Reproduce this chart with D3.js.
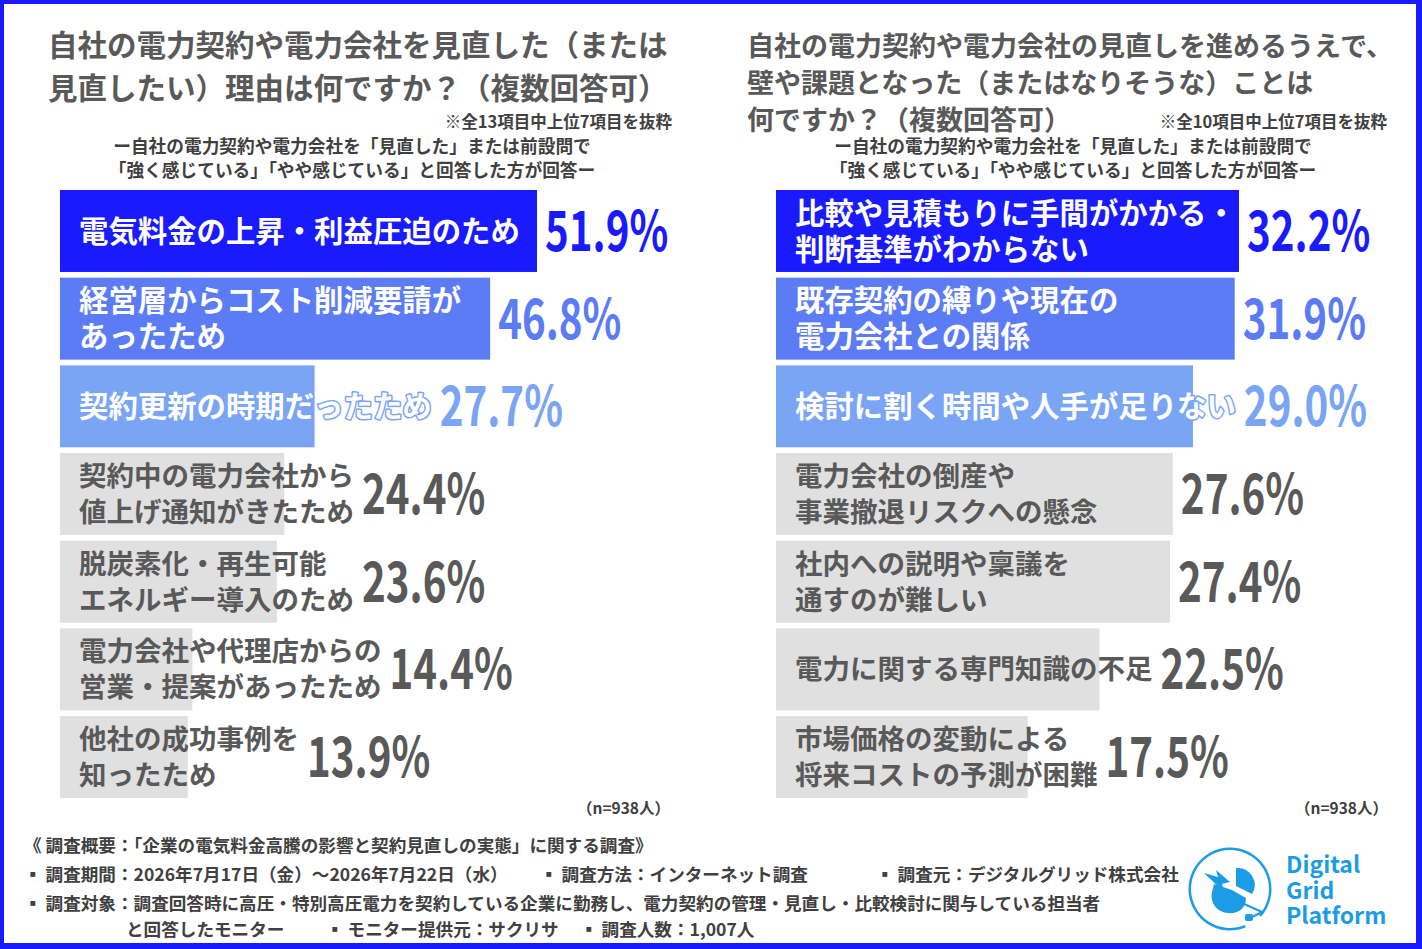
<!DOCTYPE html>
<html>
<head>
<meta charset="utf-8">
<script src="https://cdn.jsdelivr.net/npm/d3@7"></script>
<style>
  body { margin: 0; background: #fff; }
  svg { display: block; }
  text { font-family: "Noto Sans CJK JP", "Noto Sans", sans-serif; }
</style>
</head>
<body>
<div class="chart"></div>
<script>
// chart data
var leftCats = [
  "電気料金の上昇・利益圧迫のため",
  "経営層からコスト削減要請が\nあったため",
  "契約更新の時期だったため",
  "契約中の電力会社から\n値上げ通知がきたため",
  "脱炭素化・再生可能\nエネルギー導入のため",
  "電力会社や代理店からの\n営業・提案があったため",
  "他社の成功事例を\n知ったため"
];
var leftValues = [51.9, 46.8, 27.7, 24.4, 23.6, 14.4, 13.9];

var rightCats = [
  "比較や見積もりに手間がかかる・\n判断基準がわからない",
  "既存契約の縛りや現在の\n電力会社との関係",
  "検討に割く時間や人手が足りない",
  "電力会社の倒産や\n事業撤退リスクへの懸念",
  "社内への説明や稟議を\n通すのが難しい",
  "電力に関する専門知識の不足",
  "市場価格の変動による\n将来コストの予測が困難"
];
var rightValues = [32.2, 31.9, 29.0, 27.6, 27.4, 22.5, 17.5];

var leftTitle = ["自社の電力契約や電力会社を見直した（または", "見直したい）理由は何ですか？（複数回答可）"];
var rightTitle = ["自社の電力契約や電力会社の見直しを進めるうえで、", "壁や課題となった（またはなりそうな）ことは", "何ですか？（複数回答可）"];
var leftNote = "※全13項目中上位7項目を抜粋";
var rightNote = "※全10項目中上位7項目を抜粋";
var subTitle = ["ー自社の電力契約や電力会社を「見直した」または前設問で", "「強く感じている」「やや感じている」と回答した方が回答ー"];
var sampleNote = "（n=938人）";

var footerLines = [
  [{x: 24, t: "《 調査概要：「企業の電気料金高騰の影響と契約見直しの実態」に関する調査》"}],
  [{x: 24, t: "▪ 調査期間：2026年7月17日（金）～2026年7月22日（水）"},
   {x: 540, t: "▪ 調査方法：インターネット調査"},
   {x: 876, t: "▪ 調査元：デジタルグリッド株式会社"}],
  [{x: 24, t: "▪ 調査対象：調査回答時に高圧・特別高圧電力を契約している企業に勤務し、電力契約の管理・見直し・比較検討に関与している担当者"}],
  [{x: 126, t: "と回答したモニター"},
   {x: 326, t: "▪ モニター提供元：サクリサ"},
   {x: 580, t: "▪ 調査人数：1,007人"}]
];

// colours by rank
var barColors = ["#1a1aff", "#5c7cf5", "#7aa5f5", "#e0e0e0", "#e0e0e0", "#e0e0e0", "#e0e0e0"];
var textGrey = "#595959";

var svgWidth = 1422;
var svgHeight = 949;

var svg = d3.select(".chart")
  .append("svg")
  .attr("width", svgWidth)
  .attr("height", svgHeight);

// frame
svg.append("rect").attr("width", svgWidth).attr("height", svgHeight).attr("fill", "#1a1aff");
svg.append("rect").attr("x", 4).attr("y", 4)
  .attr("width", svgWidth - 10).attr("height", svgHeight - 10).attr("fill", "#fff");

// titles
function titleBlock(lines, x, y0, step, size) {
  svg.append("g").selectAll("text")
    .data(lines)
    .enter()
    .append("text")
    .attr("x", x)
    .attr("y", (d, i) => y0 + i * step)
    .attr("font-size", size)
    .attr("font-weight", 700)
    .attr("fill", textGrey)
    .text(d => d);
}
titleBlock(leftTitle, 48, 56, 43, 29.5);
titleBlock(rightTitle, 747, 56, 37, 27);

svg.append("text").attr("x", 672).attr("y", 128).attr("text-anchor", "end")
  .attr("font-size", 16.5).attr("font-weight", 700).attr("fill", "#404040").text(leftNote);
svg.append("text").attr("x", 1387).attr("y", 128).attr("text-anchor", "end")
  .attr("font-size", 16.5).attr("font-weight", 700).attr("fill", "#404040").text(rightNote);

function subBlock(cx) {
  svg.append("g").selectAll("text")
    .data(subTitle)
    .enter()
    .append("text")
    .attr("x", cx)
    .attr("y", (d, i) => 153 + i * 24)
    .attr("text-anchor", "middle")
    .attr("font-size", 17.7)
    .attr("font-weight", 700)
    .attr("fill", "#404040")
    .text(d => d);
}
subBlock(352);
subBlock(1073);

// y band shared by both panels
var yScale = d3.scaleBand()
  .domain(d3.range(7))
  .range([190, 798])
  .paddingInner(0.065);

function drawPanel(cats, values, x0, maxWidth) {
  var xScale = d3.scaleLinear()
    .domain([0, d3.max(values)])
    .range([0, maxWidth]);

  var g = svg.append("g");
  var rows = g.selectAll("g.row")
    .data(values)
    .enter()
    .append("g")
    .attr("class", "row");

  rows.append("rect")
    .attr("x", x0)
    .attr("y", (d, i) => yScale(i))
    .attr("width", d => xScale(d))
    .attr("height", yScale.bandwidth())
    .attr("fill", (d, i) => barColors[i]);

  rows.each(function(d, i) {
    var row = d3.select(this);
    var cy = yScale(i) + yScale.bandwidth() / 2;
    var lines = cats[i].split("\n");
    var top = i < 3;
    var label = row.append("text")
      .attr("font-size", top ? 29.4 : 27.5)
      .attr("font-weight", 700)
      .attr("fill", top ? "#fff" : textGrey)
      .attr("stroke", top ? barColors[i] : "none")
      .attr("stroke-width", top ? 3 : 0)
      .attr("stroke-linejoin", "round")
      .attr("paint-order", "stroke");
    var maxLen = 0;
    lines.forEach(function(line, k) {
      var ts = label.append("tspan")
        .attr("x", x0 + 19)
        .attr("y", cy + (k - (lines.length - 1) / 2) * 36)
        .attr("dy", "0.36em")
        .text(line);
      maxLen = Math.max(maxLen, ts.node().getComputedTextLength());
    });
    var vx = Math.max(x0 + xScale(d), x0 + 19 + maxLen) + 8;
    row.append("text")
      .attr("transform", `translate(${vx}, ${cy + 20}) scale(0.72, 1)`)
      .attr("font-family", "Roboto, 'DejaVu Sans', sans-serif")
      .attr("font-size", 56)
      .attr("font-weight", 700)
      .attr("fill", top ? barColors[i] : textGrey)
      .text(d3.format(".1f")(d) + "%");
  });
}

drawPanel(leftCats, leftValues, 60, 477);
drawPanel(rightCats, rightValues, 776, 463);

svg.append("text").attr("x", 670).attr("y", 814).attr("text-anchor", "end")
  .attr("font-size", 15.5).attr("font-weight", 700).attr("fill", "#404040").text(sampleNote);
svg.append("text").attr("x", 1388).attr("y", 814).attr("text-anchor", "end")
  .attr("font-size", 15.5).attr("font-weight", 700).attr("fill", "#404040").text(sampleNote);

// footer
var footerY = [852, 881, 910, 936];
footerLines.forEach(function(parts, i) {
  svg.append("g").selectAll("text")
    .data(parts)
    .enter()
    .append("text")
    .attr("x", d => d.x)
    .attr("y", footerY[i])
    .attr("font-size", 17.6)
    .attr("font-weight", 700)
    .attr("fill", "#404040")
    .text(d => d.t);
});

// logo
var logoBlue = "#1c9be6";
var logo = svg.append("g");
logo.append("path")
  .attr("d", d3.arc()({innerRadius: 39, outerRadius: 41.5, startAngle: 2.75, endAngle: 2 * Math.PI + 2.3}))
  .attr("transform", "translate(1230, 889)")
  .attr("fill", logoBlue);
// wing
logo.append("path")
  .attr("d", "M1236,868 A17,17 0 0 1 1252,894 L1236,886 Z")
  .attr("fill", logoBlue);
// body
logo.append("path")
  .attr("d", "M1214,884 L1232,890 L1246,898 C1246,910 1236,914 1228,913 C1216,912 1210,902 1212,892 Z")
  .attr("fill", logoBlue);
// tail bolt
logo.append("path")
  .attr("d", "M1204,873 L1218,877 L1216,870 L1230,882 L1222,884 L1224,892 Z")
  .attr("fill", logoBlue);
// cord and plug
logo.append("path")
  .attr("d", "M1244,904 L1262,912 L1252,917")
  .attr("fill", "none")
  .attr("stroke", logoBlue)
  .attr("stroke-width", 2.2);
logo.append("rect").attr("x", 1245).attr("y", 914).attr("width", 8).attr("height", 7)
  .attr("rx", 2).attr("fill", logoBlue);
logo.selectAll("text.brand")
  .data(["Digital", "Grid", "Platform"])
  .enter()
  .append("text")
  .attr("x", 1286)
  .attr("y", (d, i) => 873 + i * 25.5)
  .attr("font-family", "Montserrat, 'Open Sans', sans-serif")
  .attr("font-size", 23)
  .attr("font-weight", 700)
  .attr("fill", logoBlue)
  .text(d => d);
</script>
</body>
</html>
